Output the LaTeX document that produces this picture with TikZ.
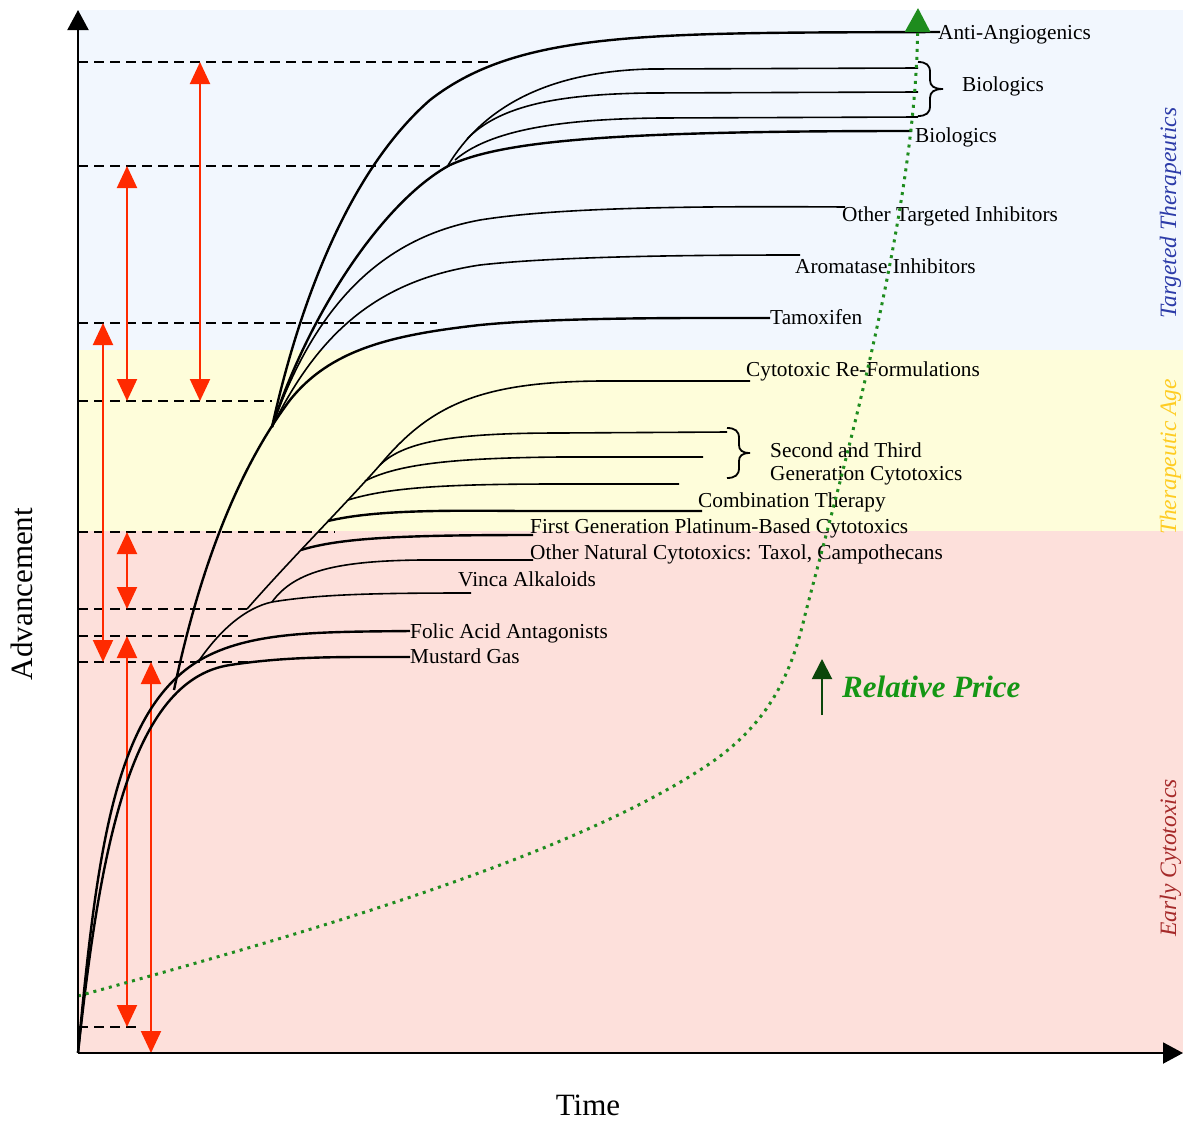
\documentclass[tikz,border=0pt]{standalone}
\usepackage{fontspec}
\setmainfont{Liberation Serif}
\usetikzlibrary{arrows.meta}
\definecolor{bgblue}{HTML}{F2F7FE}
\definecolor{bgyellow}{HTML}{FEFDDA}
\definecolor{bgpink}{HTML}{FDE0DB}
\definecolor{redarr}{HTML}{FF2A00}
\definecolor{greendot}{HTML}{1E8C1E}
\definecolor{greentxt}{HTML}{149614}
\definecolor{darkgreen}{HTML}{0A460A}
\definecolor{bluelab}{HTML}{2C3BA8}
\definecolor{goldlab}{HTML}{FFCC22}
\definecolor{redlab}{HTML}{A52A2A}
\tikzset{
  axisline/.style={line width=2pt,-{Triangle[width=21pt,length=20pt]}},
  dashln/.style={line width=1.8pt,dash pattern=on 10pt off 6pt},
  redarrow/.style={draw=redarr,line width=2pt,{Triangle[width=20pt,length=22pt]}-{Triangle[width=20pt,length=22pt]}},
  thickc/.style={line width=2.4pt},
  thinc/.style={line width=1.6pt},
  lab/.style={font=\fontsize{21.3}{24}\selectfont,inner sep=0pt,anchor=base west},
  sidelab/.style={font=\fontsize{23.5}{26}\selectfont\itshape,inner sep=0pt,rotate=90,anchor=base},
  bracec/.style={line width=1.8pt},
  pricecurve/.style={draw=greendot,line width=3pt,dash pattern=on 3pt off 5pt,-{Triangle[width=25pt,length=24pt]}}
}
\begin{document}
\begin{tikzpicture}[x=1pt,y=-1pt]
\useasboundingbox (0,0) rectangle (1183,1122);
% backgrounds
\fill[bgblue] (78,10) rectangle (1183,350);
\fill[bgyellow] (78,350) rectangle (1183,531);
\fill[bgpink] (78,531) rectangle (1183,1053);
% side labels
\node[sidelab,text=bluelab] (tt) at (1176,213) {Targeted Therapeutics};
\node[sidelab,text=goldlab] (ta) at (1176,457) {Therapeutic Age};
\node[sidelab,text=redlab] (ec) at (1176,858) {Early Cytotoxics};
% dashed levels
\coordinate (o) at (78,1053);
\draw[dashln] (78,62) -- (490,62);
\draw[dashln] (78,166) -- (440,166);
\draw[dashln] (78,323) -- (437,323);
\draw[dashln] (78,401) -- (272,401);
\draw[dashln] (78,532) -- (335,532);
\draw[dashln] (78,609) -- (247,609);
\draw[dashln] (78,636) -- (248,636);
\draw[dashln] (78,662) -- (248,662);
\draw[dashln] (78,1027) -- (142,1027);
% red arrows
\draw[redarrow] (200,62) -- (200,401);
\draw[redarrow] (127,166) -- (127,401);
\draw[redarrow] (103,323) -- (103,662);
\draw[redarrow] (127,532) -- (127,609);
\draw[redarrow] (127,636) -- (127,1027);
\draw[redarrow] (151,662) -- (151,1053);
% early cytotoxic curves
\draw[thickc] (o) .. controls (100,850) and (130,680) .. (230,665) .. controls (290,656) and (340,657) .. (410,657);
\draw[thickc] (o) .. controls (97,850) and (115,710) .. (200,660) .. controls (250,631) and (320,632) .. (410,631);
% main curve to Tamoxifen
\draw[thickc] (174,690) .. controls (195,590) and (230,480) .. (290,400) .. controls (330,350) and (390,335) .. (480,325) .. controls (560,317) and (700,318) .. (770,318);
% fan
\coordinate (f) at (272,427);
\draw[thickc] (f) .. controls (300,300) and (350,170) .. (430,100) .. controls (520,30) and (650,33) .. (940,32);
\draw[thickc] (f) .. controls (310,310) and (385,200) .. (450,165) .. controls (505,140) and (620,131) .. (912,131);
\draw[thinc] (f) .. controls (310,320) and (370,240) .. (480,220) .. controls (560,207) and (700,206) .. (845,207);
\draw[thinc] (f) .. controls (320,330) and (380,280) .. (480,265) .. controls (560,256) and (700,255) .. (800,255);
% biologics branches
\draw[thinc] (447,167) .. controls (475,120) and (530,72) .. (650,69) -- (918,68);
\draw[thinc] (467,139) .. controls (500,105) and (560,94) .. (650,93) -- (918,92);
\draw[thinc] (455,160) .. controls (490,130) and (560,119) .. (660,118) -- (918,117);
% therapeutic age curves
\draw[thinc] (198,662) .. controls (220,630) and (245,608) .. (272,602) .. controls (320,594) and (380,593) .. (471,593);
\draw[thinc] (247,609) .. controls (290,560) and (340,510) .. (380,465) .. controls (430,405) and (480,382) .. (600,381) -- (750,381);
\draw[thinc] (272,602) .. controls (295,570) and (340,561) .. (420,560) -- (533,560);
\draw[thickc] (301,550) .. controls (340,538) and (400,535) .. (533,535);
\draw[thickc] (328,521) .. controls (370,511) and (430,510) .. (520,511) -- (702,511);
\draw[thinc] (348,500) .. controls (390,487) and (450,484) .. (560,484) -- (679,484);
\draw[thinc] (365,481) .. controls (400,463) and (460,458) .. (560,457) -- (703,457);
\draw[thinc] (380,465) .. controls (405,440) and (460,433) .. (560,433) -- (727,432);
% braces
\draw[bracec] (918,62) .. controls (926,62) and (930,65) .. (930,72) -- (930,80) .. controls (930,86) and (934,89) .. (943,89) .. controls (934,89) and (930,92) .. (930,98) -- (930,106) .. controls (930,113) and (926,116) .. (918,116);
\draw[bracec] (727,428) .. controls (735,428) and (739,431) .. (739,438) -- (739,445) .. controls (739,450) and (742,453) .. (750,453) .. controls (742,453) and (739,456) .. (739,461) -- (739,468) .. controls (739,475) and (735,478) .. (727,478);
% labels
\node[lab] (l1) at (938,39) {Anti-Angiogenics};
\node[lab] (l2) at (962,91) {Biologics};
\node[lab] (l3) at (915,142) {Biologics};
\node[lab] (l4) at (842,221) {Other Targeted Inhibitors};
\node[lab] (l5) at (795,273) {Aromatase Inhibitors};
\node[lab] (l6) at (770,324) {Tamoxifen};
\node[lab] (l7) at (746,376) {Cytotoxic Re-Formulations};
\node[lab] (l8) at (770,457) {Second and Third};
\node[lab] (l9) at (770,480) {Generation Cytotoxics};
\node[lab] (l10) at (698,507) {Combination Therapy};
\node[lab] (l11) at (530,533) {First Generation Platinum-Based Cytotoxics};
\node[lab] (l12) at (530,559) {Other Natural Cytotoxics: Taxol, Campothecans};
\node[lab] (l13) at (458,586) {Vinca Alkaloids};
\node[lab] (l14) at (410,638) {Folic Acid Antagonists};
\node[lab] (l15) at (410,663) {Mustard Gas};
% relative price
\draw[pricecurve] (78,996) .. controls (300,935) and (560,860) .. (700,770) .. controls (765,729) and (790,680) .. (805,615) .. controls (840,480) and (915,220) .. (918,8);
\coordinate (pa) at (822,715);
\coordinate (pb) at (822,659);
\draw[darkgreen,line width=2pt,-{Triangle[width=20pt,length=20pt]}] (pa) -- (pb);
\node[font=\fontsize{31}{34}\selectfont\bfseries\itshape,text=greentxt,inner sep=0pt,anchor=base west] (rp) at (842,697) {Relative Price};
% axes
\draw[axisline] (o) -- (78,10);
\draw[axisline] (o) -- (1183,1053);
\node[font=\fontsize{31}{34}\selectfont,inner sep=0pt,rotate=90] (adv) at (22,594) {Advancement};
\node[font=\fontsize{31}{34}\selectfont,inner sep=0pt,anchor=base] (time) at (588,1115) {Time};
\end{tikzpicture}
\end{document}
